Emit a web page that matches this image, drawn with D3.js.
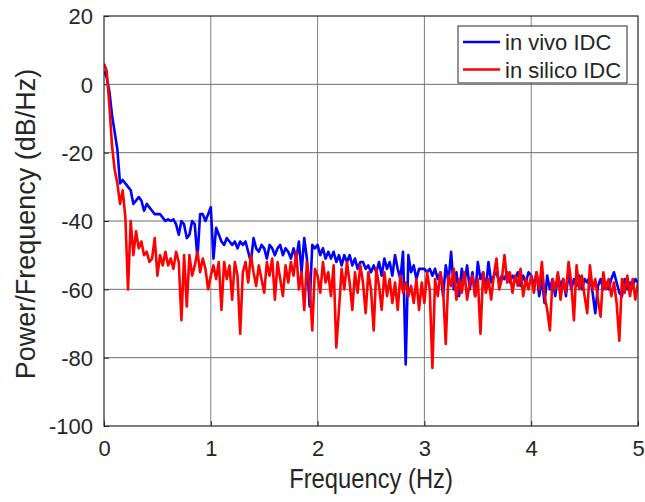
<!DOCTYPE html>
<meta charset="utf-8">
<title>PSD in vivo vs in silico</title>
<script src="https://d3js.org/d3.v7.min.js"></script>
<style>
  body { margin: 0; background: #fff; }
  text { font-family: "Liberation Sans", Arial, sans-serif; fill: #262626; }
</style>
<div id="chart"></div>
<script>
// frequency step of the spectrum (Hz), 0..5 Hz
var freqStep = 0.025;

// in vivo IDC, dB/Hz
var inVivo = [
  4, 2, -2, -9, -14, -19, -29, -28, -29, -30,
  -31, -35, -34, -33, -34, -37, -35, -36, -37, -38,
  -38, -38, -39, -40, -39.5, -40, -39.5, -41, -44, -40,
  -41, -45, -44, -40, -41, -51, -38, -38, -40, -38,
  -36, -51, -42, -44, -46, -47, -45, -46, -47, -46,
  -48, -46, -47, -46, -49, -52, -45, -48, -49, -47,
  -48, -51, -47, -48, -50, -48, -47, -50, -48, -49,
  -51, -48, -51, -46, -55, -45, -51, -65, -47, -48,
  -47, -50, -48, -51, -49, -51, -49, -52, -50, -53,
  -50, -52, -50, -53, -51, -54, -52, -52, -54, -53,
  -55, -53, -55, -52, -56, -51, -54, -52, -56, -50,
  -54, -57, -49, -82, -50, -55, -53, -57, -54, -54,
  -54, -55, -54, -56, -54, -57, -55, -62, -53, -58,
  -49, -60, -55, -62, -54, -58, -53, -60, -55, -62,
  -52, -57, -55, -60, -52, -58, -56, -55, -58, -56,
  -57, -55, -58, -56, -57, -55, -59, -56, -58, -55,
  -56, -59, -55, -62, -57, -64, -56, -60, -57, -62,
  -56, -59, -57, -62, -55, -60, -57, -59, -56, -60,
  -57, -58, -56, -61, -67, -59, -57, -60, -58, -60,
  -57, -55, -58, -61, -62, -57, -60, -58, -59, -57,
  -58
];

// in silico IDC, dB/Hz
var inSilico = [
  6, 4, -6, -18, -25, -29, -35, -31, -39, -60,
  -40, -50, -43, -48, -46, -50, -49, -52, -51, -45,
  -56, -50, -53, -49, -53, -51, -54, -49, -52, -69,
  -50, -65, -50, -56, -53, -49, -55, -51, -54, -60,
  -56, -53, -57, -52, -66, -52, -57, -53, -63, -52,
  -56, -73, -55, -52, -58, -50, -55, -59, -53, -57,
  -61, -52, -56, -51, -63, -52, -57, -62, -53, -58,
  -52, -56, -49, -60, -55, -66, -52, -58, -72, -54,
  -56, -61, -52, -58, -55, -62, -53, -77, -66, -54,
  -60, -52, -58, -66, -55, -61, -53, -58, -67, -55,
  -60, -72, -54, -59, -66, -55, -62, -57, -64, -58,
  -66, -56, -61, -58, -62, -59, -64, -57, -66, -58,
  -64, -55, -60, -83, -57, -62, -55, -60, -76, -56,
  -59, -54, -63, -57, -61, -55, -63, -58, -56, -62,
  -57, -73, -55, -61, -57, -63, -56, -51, -60, -57,
  -50, -58, -55, -61, -56, -59, -54, -62, -57, -60,
  -56, -61, -55, -60, -52, -62, -66, -72, -57, -60,
  -55, -63, -57, -61, -52, -58, -69, -53, -60, -56,
  -62, -67, -53, -60, -57, -63, -68, -55, -60, -57,
  -62, -58, -64, -75, -57, -61, -56, -62, -57, -63,
  -58
];

var xTicks = [0, 1, 2, 3, 4, 5];
var yTicks = [-100, -80, -60, -40, -20, 0, 20];
var seriesNames = ["in vivo IDC", "in silico IDC"];
var seriesColors = ["#0000ff", "#ff0000"];

var W = 645, H = 502;
var margin = {top: 16, right: 7, bottom: 76, left: 104},
    width = W - margin.left - margin.right,
    height = H - margin.top - margin.bottom;

var svg = d3.select("#chart")
  .append("svg")
    .attr("width", W)
    .attr("height", H);

var g = svg.append("g")
    .attr("transform", "translate(" + margin.left + "," + margin.top + ")");

var x = d3.scaleLinear().domain([0, 5]).range([0, width]);
var y = d3.scaleLinear().domain([-100, 20]).range([height, 0]);

// grid
g.append("g")
  .selectAll("line")
  .data(xTicks.slice(1, -1))
  .enter().append("line")
    .attr("x1", function(d) { return x(d); })
    .attr("x2", function(d) { return x(d); })
    .attr("y1", 0).attr("y2", height)
    .attr("stroke", "#808080").attr("stroke-width", 1);

g.append("g")
  .selectAll("line")
  .data(yTicks.slice(1, -1))
  .enter().append("line")
    .attr("y1", function(d) { return y(d); })
    .attr("y2", function(d) { return y(d); })
    .attr("x1", 0).attr("x2", width)
    .attr("stroke", "#6e6e6e").attr("stroke-width", 1);

// axes (ticks inward, like matlab), plain hyphen for negatives
var fmt = function(d) { return String(d); };
var xAxis = g.append("g")
  .attr("transform", "translate(0," + height + ")")
  .call(d3.axisBottom(x).tickValues(xTicks).tickSize(-5).tickPadding(14).tickFormat(fmt));
var yAxis = g.append("g")
  .call(d3.axisLeft(y).tickValues(yTicks).tickSize(-5).tickPadding(11).tickFormat(fmt));

[xAxis, yAxis].forEach(function(a) {
  a.select(".domain").remove();
  a.selectAll("line").attr("stroke", "#262626");
  a.selectAll("text")
    .attr("font-size", "22px")
    .attr("font-family", "Liberation Sans, Arial, sans-serif")
    .attr("fill", "#262626");
});
yAxis.selectAll("text").attr("dy", "0.36em");

// clip
g.append("clipPath").attr("id", "clip")
  .append("rect").attr("width", width).attr("height", height);

var line = d3.line()
  .x(function(d, i) { return x(i * freqStep); })
  .y(function(d) { return y(d); });

[inVivo, inSilico].forEach(function(s, k) {
  g.append("path")
    .datum(s)
    .attr("clip-path", "url(#clip)")
    .attr("fill", "none")
    .attr("stroke", seriesColors[k])
    .attr("stroke-width", 2.6)
    .attr("stroke-linejoin", "round")
    .attr("d", line);
});

// box
g.append("rect")
  .attr("width", width).attr("height", height)
  .attr("fill", "none").attr("stroke", "#262626").attr("stroke-width", 1.2);

// axis titles
svg.append("text")
  .attr("transform", "translate(" + (margin.left + width / 2) + ",488) scale(0.88,1)")
  .attr("text-anchor", "middle")
  .attr("font-size", "27px")
  .text("Frequency (Hz)");

svg.append("text")
  .attr("transform", "translate(35," + (margin.top + height / 2 + 3) + ") rotate(-90)")
  .attr("text-anchor", "middle")
  .attr("font-size", "27px")
  .text("Power/Frequency (dB/Hz)");

// legend
var lg = svg.append("g").attr("transform", "translate(458,26)");
lg.append("rect")
  .attr("width", 169).attr("height", 57)
  .attr("fill", "#fff").attr("stroke", "#262626").attr("stroke-width", 1);
seriesNames.forEach(function(name, k) {
  var cy = 16 + k * 27.5;
  lg.append("line")
    .attr("x1", 5).attr("x2", 42)
    .attr("y1", cy).attr("y2", cy)
    .attr("stroke", seriesColors[k]).attr("stroke-width", 2.6);
  lg.append("text")
    .attr("x", 47).attr("y", cy + 8)
    .attr("font-size", "22px")
    .text(name);
});
</script>
